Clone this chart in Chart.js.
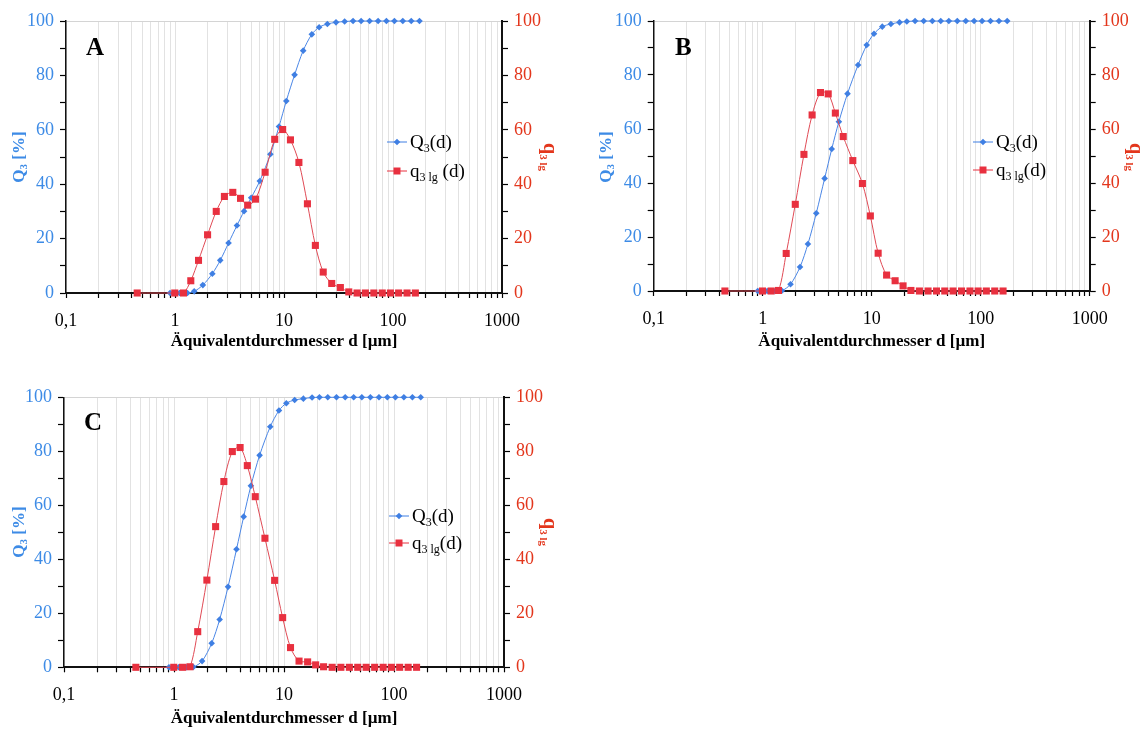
<!DOCTYPE html>
<html>
<head>
<meta charset="utf-8">
<script src="https://cdn.jsdelivr.net/npm/chart.js@4.4.1/dist/chart.umd.min.js"></script>
<style>
  html, body { margin: 0; padding: 0; background: #fff; }
  body { width: 1145px; height: 729px; position: relative; overflow: hidden; }
  canvas { position: absolute; }
</style>
</head>
<body>
<canvas id="chartA" width="560" height="360" style="left:0px;top:0px"></canvas>
<canvas id="chartB" width="558" height="360" style="left:587px;top:0px"></canvas>
<canvas id="chartC" width="560" height="353" style="left:0px;top:376px"></canvas>
<script>
// Upper class limits in µm (cumulative distribution Q3 is plotted here)
const dUpper = [0.9, 1.1, 1.3, 1.5, 1.8, 2.2, 2.6, 3.1, 3.7, 4.3, 5.0, 6.0, 7.5, 9.0, 10.5, 12.5,
  15, 18, 21, 25, 30, 36, 43, 51, 61, 73, 87, 103, 123, 147, 175];
// Class centres in µm (density distribution q3lg is plotted here)
const dMean = [0.45, 0.995, 1.196, 1.396, 1.643, 1.99, 2.39, 2.84, 3.39, 3.99, 4.64, 5.48, 6.71, 8.22,
  9.72, 11.46, 13.7, 16.4, 19.4, 22.9, 27.4, 32.9, 39.3, 46.8, 55.8, 66.7, 79.7, 94.7, 112.6, 134.5, 160.4];

// Sample A
const Q3_A = [0, 0, 0, 0.6, 2.9, 7.1, 12.0, 18.4, 24.8, 30.1, 35.0, 41.2, 51.0, 61.2, 70.6, 80.2,
  89.1, 95.1, 97.7, 98.9, 99.5, 99.8, 100, 100, 100, 100, 100, 100, 100, 100, 100];
const q3lg_A = [0, 0, 0, 4.5, 12.0, 21.4, 30.0, 35.5, 37.0, 34.8, 32.3, 34.5, 44.4, 56.5, 60.1, 56.3,
  48.0, 32.8, 17.5, 7.7, 3.5, 2.0, 0.4, 0, 0, 0, 0, 0, 0, 0, 0];

// Sample B
const Q3_B = [0, 0, 0, 0.1, 2.5, 8.9, 17.4, 28.8, 41.7, 52.6, 62.7, 73.1, 83.7, 91.1, 95.3, 97.9,
  98.9, 99.5, 99.8, 100, 100, 100, 100, 100, 100, 100, 100, 100, 100, 100, 100];
const q3lg_B = [0, 0, 0, 0.2, 13.9, 32.1, 50.6, 65.2, 73.5, 73.0, 65.9, 57.2, 48.3, 39.8, 27.8, 14.0,
  5.9, 3.8, 1.9, 0.2, 0, 0, 0, 0, 0, 0, 0, 0, 0, 0, 0];

// Sample C
const Q3_C = [0, 0, 0, 0.1, 2.3, 8.9, 17.7, 29.8, 43.7, 55.8, 67.2, 78.5, 89.1, 95.1, 97.8, 99.0,
  99.5, 99.9, 100, 100, 100, 100, 100, 100, 100, 100, 100, 100, 100, 100, 100];
const q3lg_C = [0, 0, 0, 0.2, 13.2, 32.3, 52.1, 68.8, 79.9, 81.4, 74.7, 63.2, 47.8, 32.2, 18.4, 7.3,
  2.3, 2.0, 0.9, 0.2, 0, 0, 0, 0, 0, 0, 0, 0, 0, 0, 0];

// Axis ticks
const decadeValues = [0.1, 1, 10, 100, 1000];
const decadeLabels = ['0,1', '1', '10', '100', '1000'];
const yTicks = [0, 10, 20, 30, 40, 50, 60, 70, 80, 90, 100];
const yLabelled = [0, 20, 40, 60, 80, 100];

const BLUE = '#3f7fe3';
const BLUE_TXT = '#3d8be6';
const RED = '#e8303f';
const RED_TXT = '#e3361c';
const SERIF = '"Liberation Serif", "Times New Roman", serif';

// gridline positions: 1..9 in every decade plus the last decade
const xTickValues = [];
decadeValues.slice(0, -1).forEach(d => {
  for (let m = 1; m <= 9; m++) xTickValues.push(+(m * d).toPrecision(3));
});
xTickValues.push(decadeValues[decadeValues.length - 1]);

// draws a row of text runs (normal / subscript) starting at x
function drawRuns(ctx, x, y, runs, measureOnly) {
  let w = 0;
  runs.forEach(r => {
    ctx.font = (r.bold ? 'bold ' : '') + r.size + 'px ' + SERIF;
    if (!measureOnly) ctx.fillText(r.t, x + w, y + (r.dy || 0));
    w += ctx.measureText(r.t).width;
  });
  return w;
}

function drawMarker(ctx, style, x, y, color) {
  ctx.fillStyle = color;
  ctx.beginPath();
  if (style === 'rect') {
    ctx.rect(x - 3.5, y - 3.5, 7, 7);
  } else {
    ctx.moveTo(x, y - 3.3); ctx.lineTo(x + 3.3, y); ctx.lineTo(x, y + 3.3); ctx.lineTo(x - 3.3, y);
    ctx.closePath();
  }
  ctx.fill();
}

const panelDecor = {
  id: 'panelDecor',
  afterDraw(chart, args, o) {
    const ctx = chart.ctx;
    const a = chart.chartArea;
    ctx.save();
    ctx.textBaseline = 'alphabetic';
    ctx.textAlign = 'left';

    // panel letter
    ctx.fillStyle = '#000';
    ctx.font = 'bold 25px ' + SERIF;
    ctx.fillText(o.letter, o.letterX, o.letterY);

    // x axis title
    ctx.font = 'bold 17px ' + SERIF;
    ctx.textAlign = 'center';
    ctx.fillText('Äquivalentdurchmesser d [µm]', (a.left + a.right) / 2, o.xTitleY);
    ctx.textAlign = 'left';

    // left axis title, reads bottom to top
    const leftRuns = [
      { t: 'Q', size: 17, bold: true },
      { t: '3', size: 11, bold: true, dy: 3 },
      { t: ' [%]', size: 17, bold: true }
    ];
    ctx.save();
    ctx.translate(o.leftTitleX, o.titleCY);
    ctx.rotate(-Math.PI / 2);
    ctx.fillStyle = BLUE_TXT;
    let w = drawRuns(ctx, 0, 0, leftRuns, true);
    drawRuns(ctx, -w / 2, 6, leftRuns);
    ctx.restore();

    // right axis title, reads top to bottom
    const rightRuns = [
      { t: 'q', size: 20, bold: true },
      { t: '3 lg', size: 11, bold: true, dy: 4 }
    ];
    ctx.save();
    ctx.translate(o.rightTitleX, o.titleCY);
    ctx.rotate(Math.PI / 2);
    ctx.fillStyle = RED_TXT;
    w = drawRuns(ctx, 0, 0, rightRuns, true);
    drawRuns(ctx, -w / 2, 5, rightRuns);
    ctx.restore();

    // legend
    const rows = [
      { color: BLUE, style: 'rectRot', runs: [
        { t: 'Q', size: 19 }, { t: '3', size: 12, dy: 4 }, { t: '(d)', size: 19 }] },
      { color: RED, style: 'rect', runs: [
        { t: 'q', size: 19 }, { t: '3 lg', size: 12, dy: 4 }, { t: o.dSpace ? ' (d)' : '(d)', size: 19 }] }
    ];
    rows.forEach((r, i) => {
      const y = o.legY[i];
      ctx.strokeStyle = r.color;
      ctx.lineWidth = 1;
      ctx.beginPath();
      ctx.moveTo(o.legX, y);
      ctx.lineTo(o.legX + 20, y);
      ctx.stroke();
      drawMarker(ctx, r.style, o.legX + 10, y, r.color);
      ctx.fillStyle = '#000';
      drawRuns(ctx, o.legX + 23, y + 6, r.runs);
    });
    ctx.restore();
  }
};

function buildChart(id, p) {
  const canvas = document.getElementById(id);
  const W = canvas.width, H = canvas.height;
  const tickFont = { family: SERIF, size: 18 };
  const yTickCallback = v => (yLabelled.includes(v) ? String(v) : '');
  return new Chart(canvas, {
    type: 'line',
    data: {
      datasets: [
        {
          label: 'q3lg(d)',
          data: dMean.map((d, i) => ({ x: d, y: p.q3lg[i] })),
          yAxisID: 'yq',
          borderColor: '#e04a55',
          backgroundColor: RED,
          borderWidth: 1,
          pointStyle: 'rect',
          pointRadius: 5,
          pointBorderWidth: 0,
          tension: 0.3,
          clip: false,
          order: 0
        },
        {
          label: 'Q3(d)',
          data: dUpper.map((d, i) => ({ x: d, y: p.Q3[i] })),
          yAxisID: 'yQ',
          borderColor: '#4a86e6',
          backgroundColor: BLUE,
          borderWidth: 1,
          pointStyle: 'rectRot',
          pointRadius: 3.3,
          pointBorderWidth: 0,
          tension: 0.3,
          clip: false,
          order: 1
        }
      ]
    },
    options: {
      responsive: false,
      animation: false,
      devicePixelRatio: 1,
      layout: { padding: { top: p.top, left: 0, right: 0, bottom: 0 } },
      plugins: {
        legend: { display: false },
        tooltip: { enabled: false },
        panelDecor: p.decor
      },
      scales: {
        x: {
          type: 'logarithmic',
          min: 0.1,
          max: 1000,
          afterFit: s => { s.height = H - p.bottom; },
          afterBuildTicks: s => { s.ticks = xTickValues.map(v => ({ value: v })); },
          grid: { color: '#e2e2e2', lineWidth: 1, tickColor: '#000', tickLength: 5, tickWidth: 1.2 },
          border: { color: '#111', width: 2 },
          ticks: {
            autoSkip: false,
            maxRotation: 0,
            padding: 12,
            color: '#000',
            font: tickFont,
            callback: v => {
              const k = decadeValues.findIndex(d => Math.abs(d - v) < 1e-9);
              return k >= 0 ? decadeLabels[k] : '';
            }
          }
        },
        yQ: {
          position: 'left',
          min: 0,
          max: 100,
          afterFit: s => { s.width = p.left; },
          afterBuildTicks: s => { s.ticks = yTicks.map(v => ({ value: v })); },
          grid: {
            color: c => (c.tick && c.tick.value === 100 ? '#d4d4d4' : 'rgba(0,0,0,0)'),
            tickColor: '#000',
            tickLength: 6,
            tickWidth: 1.2
          },
          border: { color: '#111', width: 1.5 },
          ticks: { padding: 6, color: BLUE_TXT, font: tickFont, callback: yTickCallback }
        },
        yq: {
          position: 'right',
          min: 0,
          max: 100,
          afterFit: s => { s.width = W - p.right; },
          afterBuildTicks: s => { s.ticks = yTicks.map(v => ({ value: v })); },
          grid: { drawOnChartArea: false, tickColor: '#000', tickLength: 6, tickWidth: 1.2 },
          border: { color: '#111', width: 2 },
          ticks: { padding: 6, color: RED_TXT, font: tickFont, callback: yTickCallback }
        }
      }
    },
    plugins: [panelDecor]
  });
}

buildChart('chartA', {
  Q3: Q3_A, q3lg: q3lg_A,
  left: 66, right: 502, top: 21, bottom: 293,
  decor: { letter: 'A', letterX: 86, letterY: 55, xTitleY: 346, leftTitleX: 18, rightTitleX: 549,
    titleCY: 157, legX: 387, legY: [142, 171], dSpace: true }
});
buildChart('chartB', {
  Q3: Q3_B, q3lg: q3lg_B,
  left: 66.7, right: 502.7, top: 21, bottom: 291,
  decor: { letter: 'B', letterX: 88, letterY: 55, xTitleY: 346, leftTitleX: 18, rightTitleX: 548,
    titleCY: 157, legX: 386, legY: [142, 170], dSpace: false }
});
buildChart('chartC', {
  Q3: Q3_C, q3lg: q3lg_C,
  left: 64, right: 504, top: 21.3, bottom: 291.3,
  decor: { letter: 'C', letterX: 84, letterY: 54, xTitleY: 347, leftTitleX: 18, rightTitleX: 549,
    titleCY: 156, legX: 389, legY: [140, 167], dSpace: false }
});
</script>
</body>
</html>
